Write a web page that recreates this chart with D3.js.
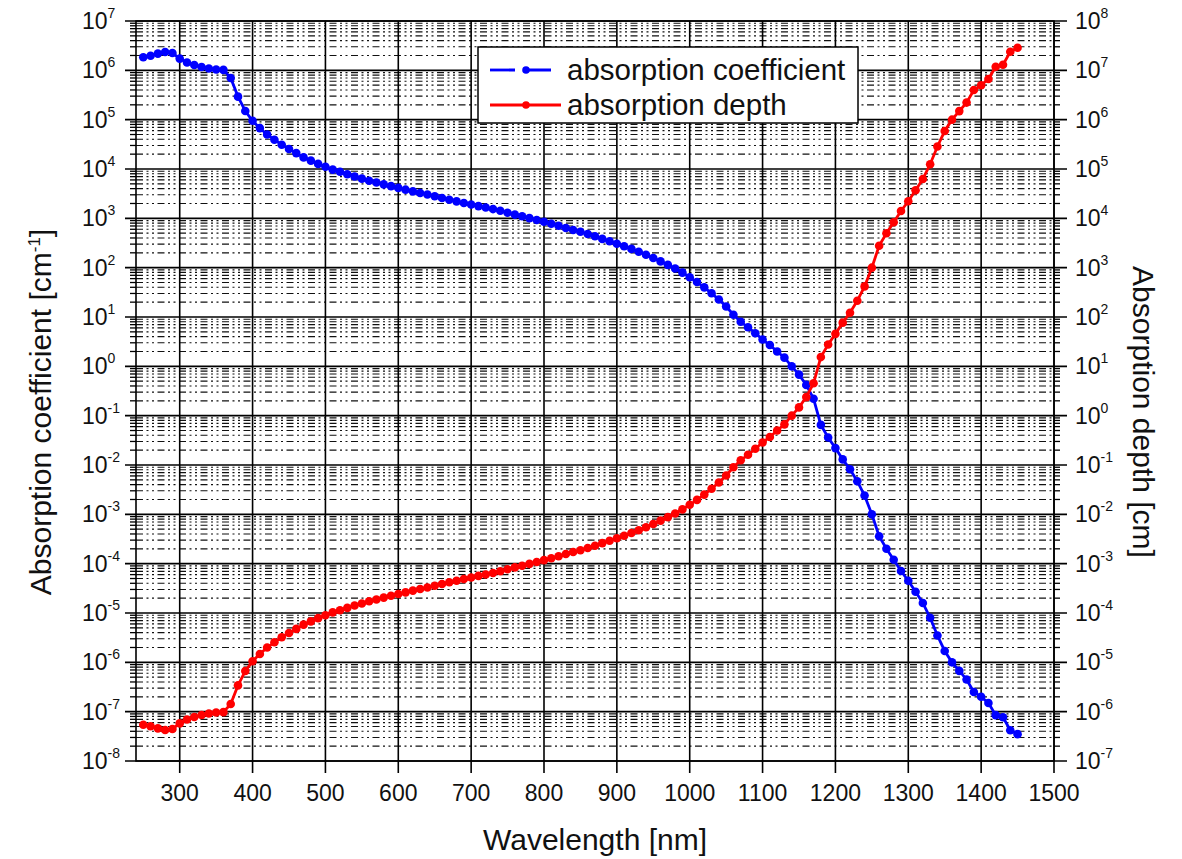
<!DOCTYPE html>
<html>
<head>
<meta charset="utf-8">
<script src="https://cdn.jsdelivr.net/npm/d3@7"></script>
<style>
  body { margin: 0; background: #fff; }
  svg { font-family: "Liberation Sans", Arial, sans-serif; }
</style>
</head>
<body>
<div id="chart"></div>
<script>
const wavelengths = d3.range(250, 1451, 10);

const absorptionCoefficient = [
  1.84e6, 1.97e6, 2.18e6, 2.36e6, 2.24e6, 1.73e6, 1.44e6, 1.28e6, 1.17e6, 1.09e6,
  1.04e6, 1.02e6, 6.97e5, 2.93e5, 1.50e5, 9.52e4, 6.74e4, 5.00e4, 3.92e4, 3.11e4,
  2.55e4, 2.10e4, 1.72e4, 1.48e4, 1.27e4, 1.11e4, 9.70e3, 8.80e3, 7.85e3, 7.05e3,
  6.39e3, 5.78e3, 5.32e3, 4.88e3, 4.49e3, 4.14e3, 3.81e3, 3.52e3, 3.27e3, 3.04e3,
  2.81e3, 2.58e3, 2.38e3, 2.21e3, 2.05e3, 1.90e3, 1.77e3, 1.66e3, 1.54e3, 1.42e3,
  1.30e3, 1.19e3, 1.10e3, 1.01e3, 928, 850, 775, 707, 638, 580,
  535, 480, 432, 383, 343, 306, 272, 240, 210, 183,
  157, 134, 114, 95.9, 79.2, 64.0, 51.1, 39.9, 30.2, 22.6,
  16.3, 11.1, 8.0, 6.2, 4.7, 3.5, 2.7, 2.0, 1.5, 1.0,
  0.68, 0.42, 0.22, 0.065, 0.036, 0.022, 0.013, 8.2e-3, 4.7e-3, 2.4e-3,
  1.0e-3, 3.6e-4, 2.0e-4, 1.2e-4, 7.1e-5, 4.5e-5, 2.7e-5, 1.6e-5, 8.0e-6, 3.5e-6,
  1.7e-6, 1.0e-6, 6.7e-7, 4.5e-7, 2.5e-7, 2.0e-7, 1.5e-7, 8.5e-8, 7.7e-8, 4.2e-8,
  3.5e-8
];

const absorptionDepth = [
  5.43e-7, 5.08e-7, 4.59e-7, 4.24e-7, 4.46e-7, 5.78e-7, 6.94e-7, 7.81e-7, 8.55e-7, 9.17e-7,
  9.62e-7, 9.80e-7, 1.43e-6, 3.41e-6, 6.67e-6, 1.05e-5, 1.48e-5, 2.00e-5, 2.55e-5, 3.22e-5,
  3.92e-5, 4.76e-5, 5.81e-5, 6.76e-5, 7.87e-5, 9.01e-5, 1.03e-4, 1.14e-4, 1.27e-4, 1.42e-4,
  1.56e-4, 1.73e-4, 1.88e-4, 2.05e-4, 2.23e-4, 2.42e-4, 2.62e-4, 2.84e-4, 3.06e-4, 3.29e-4,
  3.56e-4, 3.88e-4, 4.20e-4, 4.52e-4, 4.88e-4, 5.26e-4, 5.65e-4, 6.02e-4, 6.49e-4, 7.04e-4,
  7.69e-4, 8.40e-4, 9.09e-4, 9.90e-4, 1.08e-3, 1.18e-3, 1.29e-3, 1.41e-3, 1.57e-3, 1.72e-3,
  1.87e-3, 2.08e-3, 2.31e-3, 2.61e-3, 2.92e-3, 3.27e-3, 3.68e-3, 4.17e-3, 4.76e-3, 5.46e-3,
  6.37e-3, 7.46e-3, 8.77e-3, 1.04e-2, 1.26e-2, 1.56e-2, 1.96e-2, 2.51e-2, 3.31e-2, 4.42e-2,
  6.13e-2, 9.01e-2, 0.125, 0.161, 0.213, 0.286, 0.370, 0.500, 0.667, 1.00,
  1.47, 2.38, 4.55, 15.4, 27.8, 45.5, 76.9, 122, 213, 417,
  1000, 2780, 5000, 8330, 1.41e4, 2.22e4, 3.70e4, 6.25e4, 1.25e5, 2.86e5,
  5.88e5, 1.00e6, 1.49e6, 2.22e6, 4.00e6, 5.00e6, 6.67e6, 1.18e7, 1.30e7, 2.38e7,
  2.86e7
];

const xTicks = [300, 400, 500, 600, 700, 800, 900, 1000, 1100, 1200, 1300, 1400, 1500];
const leftExponents = d3.range(-8, 8);   // 10^-8 .. 10^7
const rightExponents = d3.range(-7, 9);  // 10^-7 .. 10^8
const seriesNames = ["absorption coefficient", "absorption depth"];

const W = 1182, H = 859;
const plot = { left: 136, right: 1054, top: 21, bottom: 761 };

const svg = d3.select("#chart")
  .append("svg")
  .attr("width", W)
  .attr("height", H);

const x = d3.scaleLinear().domain([240, 1500]).range([plot.left, plot.right]);
const yL = d3.scaleLog().domain([1e-8, 1e7]).range([plot.bottom, plot.top]);
const yR = d3.scaleLog().domain([1e-7, 1e8]).range([plot.bottom, plot.top]);

const grid = svg.append("g");

// minor horizontal grid (2..9 of each decade), dash-dot
const minors = [];
leftExponents.slice(0, -1).forEach(e => {
  for (let m = 2; m <= 9; m++) minors.push(m * Math.pow(10, e));
});

grid.selectAll("line.minor")
  .data(minors)
  .enter().append("line")
  .attr("class", "minor")
  .attr("x1", plot.left).attr("x2", plot.right)
  .attr("y1", d => yL(d)).attr("y2", d => yL(d))
  .attr("stroke", "#111")
  .attr("stroke-width", 1.15)
  .attr("stroke-dasharray", "7,3.5,2,3.5,2,3.5");

// minor ticks, outward on both sides
grid.selectAll("line.mtl")
  .data(minors)
  .enter().append("line")
  .attr("x1", plot.left - 6).attr("x2", plot.left)
  .attr("y1", d => yL(d)).attr("y2", d => yL(d))
  .attr("stroke", "#000").attr("stroke-width", 1.3);

grid.selectAll("line.mtr")
  .data(minors)
  .enter().append("line")
  .attr("x1", plot.right).attr("x2", plot.right + 6)
  .attr("y1", d => yL(d)).attr("y2", d => yL(d))
  .attr("stroke", "#000").attr("stroke-width", 1.3);

// major horizontal grid + ticks
grid.selectAll("line.major")
  .data(leftExponents)
  .enter().append("line")
  .attr("x1", plot.left - 11).attr("x2", plot.right + 13)
  .attr("y1", d => yL(Math.pow(10, d))).attr("y2", d => yL(Math.pow(10, d)))
  .attr("stroke", "#000")
  .attr("stroke-width", 1.6);

// vertical grid + bottom ticks
grid.selectAll("line.vert")
  .data(xTicks)
  .enter().append("line")
  .attr("x1", d => x(d)).attr("x2", d => x(d))
  .attr("y1", plot.top).attr("y2", plot.bottom + 12)
  .attr("stroke", "#000")
  .attr("stroke-width", 1.6);

// frame
svg.append("rect")
  .attr("x", plot.left).attr("y", plot.top)
  .attr("width", plot.right - plot.left)
  .attr("height", plot.bottom - plot.top)
  .attr("fill", "none")
  .attr("stroke", "#000")
  .attr("stroke-width", 1.6);

// tick labels
const pow10Label = (g, e) => {
  g.append("tspan").text("10");
  g.append("tspan").attr("dy", -11).attr("font-size", 14).text(e);
};

svg.selectAll("text.yl")
  .data(leftExponents)
  .enter().append("text")
  .attr("x", 82)
  .attr("y", d => yL(Math.pow(10, d)) + 8)
  .attr("font-size", 23)
  .attr("fill", "#111")
  .each(function(d) { pow10Label(d3.select(this), d); });

svg.selectAll("text.yr")
  .data(rightExponents)
  .enter().append("text")
  .attr("x", 1075)
  .attr("y", d => yR(Math.pow(10, d)) + 8)
  .attr("font-size", 23)
  .attr("fill", "#111")
  .each(function(d) { pow10Label(d3.select(this), d); });

svg.selectAll("text.xl")
  .data(xTicks)
  .enter().append("text")
  .attr("x", d => x(d))
  .attr("y", 801)
  .attr("text-anchor", "middle")
  .attr("font-size", 23)
  .attr("fill", "#111")
  .text(d => d);

// axis titles
svg.append("text")
  .attr("x", 595).attr("y", 850)
  .attr("text-anchor", "middle")
  .attr("font-size", 30)
  .attr("fill", "#111")
  .text("Wavelength [nm]");

const lt = svg.append("text")
  .attr("transform", "translate(51,412) rotate(-90)")
  .attr("text-anchor", "middle")
  .attr("font-size", 30)
  .attr("fill", "#111");
lt.append("tspan").text("Absorption coefficient [cm");
lt.append("tspan").attr("dy", -11).attr("font-size", 17).text("-1");
lt.append("tspan").attr("dy", 11).text("]");

svg.append("text")
  .attr("transform", "translate(1133,412) rotate(90)")
  .attr("text-anchor", "middle")
  .attr("font-size", 30)
  .attr("fill", "#111")
  .text("Absorption depth [cm]");

// series
const coefData = wavelengths.map((w, i) => ({ w, v: absorptionCoefficient[i] }));
const depthData = wavelengths.map((w, i) => ({ w, v: absorptionDepth[i] }));

const lineL = d3.line().x(d => x(d.w)).y(d => yL(d.v));
const lineR = d3.line().x(d => x(d.w)).y(d => yR(d.v));

svg.append("path")
  .attr("d", lineL(coefData))
  .attr("fill", "none")
  .attr("stroke", "#0000ff")
  .attr("stroke-width", 2.8);

svg.append("g").selectAll("circle")
  .data(coefData)
  .enter().append("circle")
  .attr("cx", d => x(d.w))
  .attr("cy", d => yL(d.v))
  .attr("r", 4.3)
  .attr("fill", "#0000ff");

svg.append("path")
  .attr("d", lineR(depthData))
  .attr("fill", "none")
  .attr("stroke", "#ff0000")
  .attr("stroke-width", 2.8);

svg.append("g").selectAll("circle")
  .data(depthData)
  .enter().append("circle")
  .attr("cx", d => x(d.w))
  .attr("cy", d => yR(d.v))
  .attr("r", 4.3)
  .attr("fill", "#ff0000");

// legend
const legend = svg.append("g");
legend.append("rect")
  .attr("x", 478).attr("y", 47)
  .attr("width", 380).attr("height", 76)
  .attr("fill", "#fff")
  .attr("stroke", "#000")
  .attr("stroke-width", 1.5);

const legendRows = [
  { name: seriesNames[0], color: "#0000ff", dash: "25,11", y: 70 },
  { name: seriesNames[1], color: "#ff0000", dash: null, y: 105 }
];

legendRows.forEach(r => {
  legend.append("line")
    .attr("x1", 490).attr("x2", 561)
    .attr("y1", r.y).attr("y2", r.y)
    .attr("stroke", r.color)
    .attr("stroke-width", 2.8)
    .attr("stroke-dasharray", r.dash);
  legend.append("circle")
    .attr("cx", 526).attr("cy", r.y)
    .attr("r", 3.8)
    .attr("fill", r.color);
  legend.append("text")
    .attr("x", 567).attr("y", r.y + 10)
    .attr("font-size", 29.5)
    .attr("fill", "#111")
    .text(r.name);
});
</script>
</body>
</html>
